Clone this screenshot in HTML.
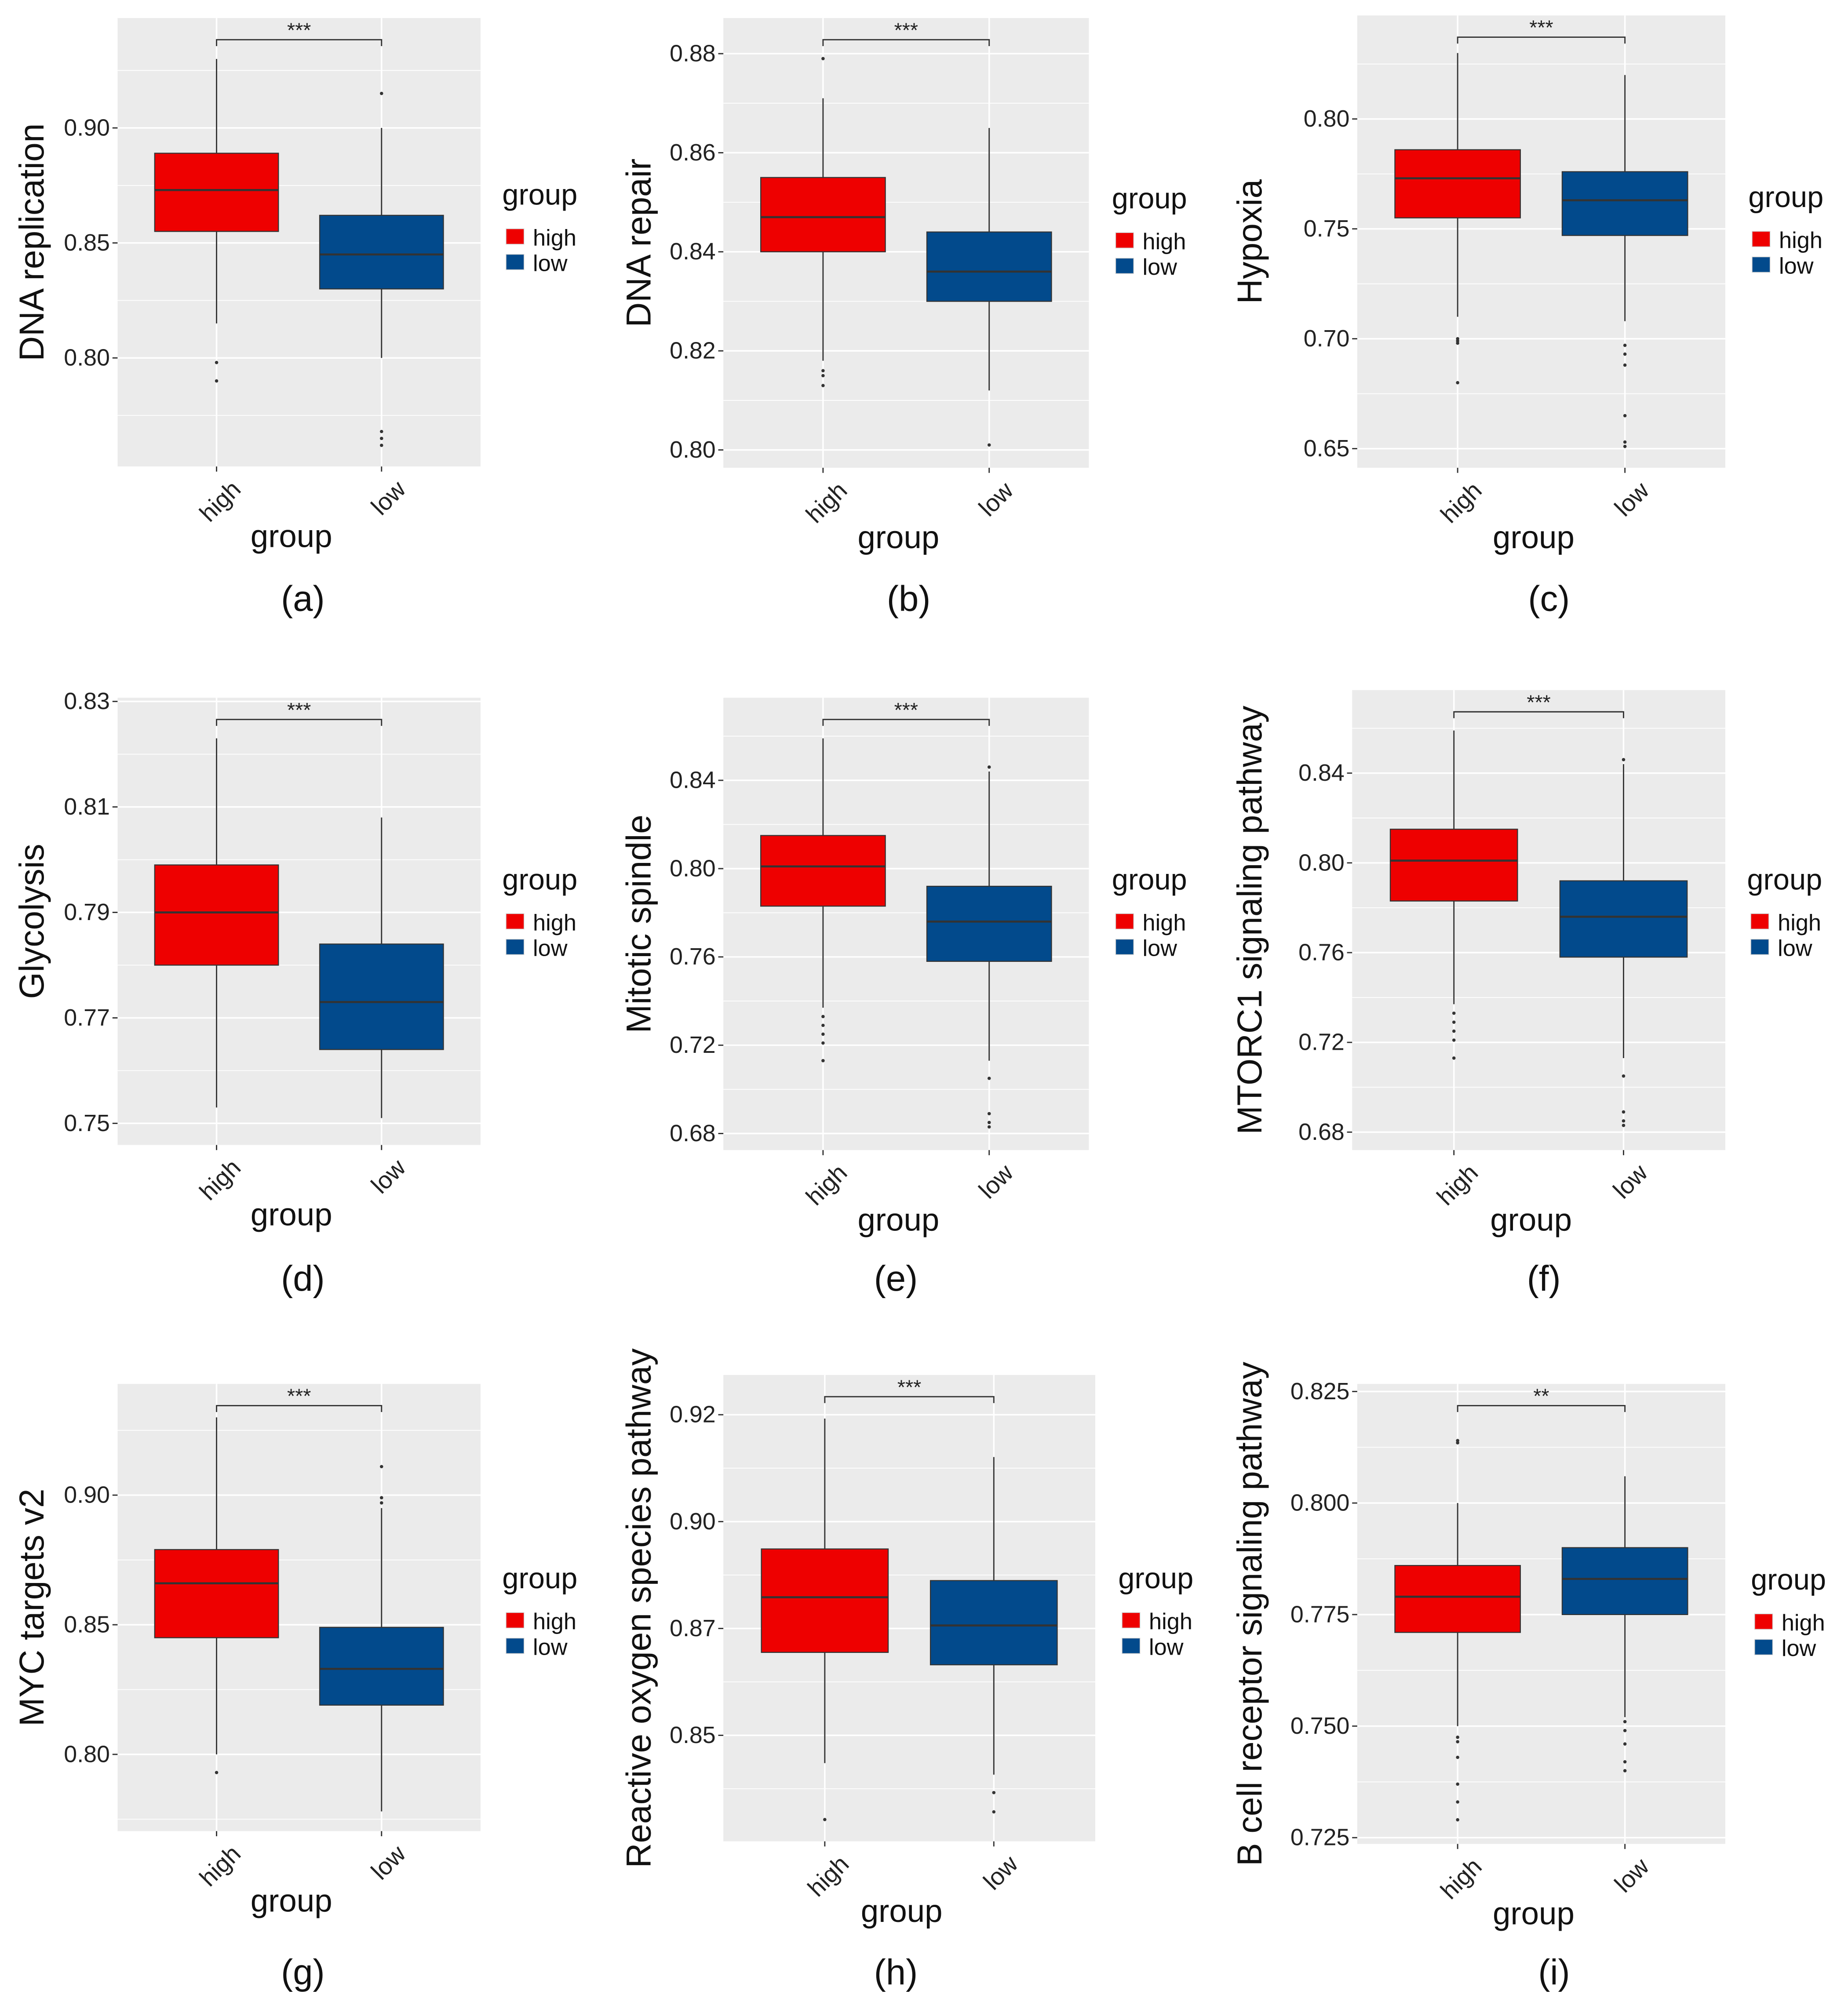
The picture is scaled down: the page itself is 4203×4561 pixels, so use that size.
<!DOCTYPE html>
<html><head><meta charset="utf-8"><style>html,body{margin:0;padding:0;background:#fff}svg{display:block}text{font-family:"Liberation Sans",Arial,sans-serif}</style></head>
<body>
<svg id="fig" xmlns="http://www.w3.org/2000/svg" width="4203" height="4561" viewBox="0 0 1446 1569"></svg>
<script>
// ---- data: per panel ----
const panelLabels = ["(a)","(b)","(c)","(d)","(e)","(f)","(g)","(h)","(i)"];
const yTitles = ["DNA replication","DNA repair","Hypoxia","Glycolysis","Mitotic spindle","MTORC1 signaling pathway","MYC targets v2","Reactive oxygen species pathway","B cell receptor signaling pathway"];
const sigMarks = ["***","***","***","***","***","***","***","***","**"];
const groups = ["high","low"];
const tickValues = [[0.90,0.85,0.80],[0.88,0.86,0.84,0.82,0.80],[0.80,0.75,0.70,0.65],[0.83,0.81,0.79,0.77,0.75],[0.84,0.80,0.76,0.72,0.68],[0.84,0.80,0.76,0.72,0.68],[0.90,0.85,0.80],[0.925,0.90,0.875,0.85],[0.825,0.800,0.775,0.750,0.725]];
const tickLabels = [["0.90","0.85","0.80"],["0.88","0.86","0.84","0.82","0.80"],["0.80","0.75","0.70","0.65"],["0.83","0.81","0.79","0.77","0.75"],["0.84","0.80","0.76","0.72","0.68"],["0.84","0.80","0.76","0.72","0.68"],["0.90","0.85","0.80"],["0.92","0.90","0.87","0.85"],["0.825","0.800","0.775","0.750","0.725"]];
const yDomains = [[0.7528,0.9478],[0.7964,0.8872],[0.6413,0.8471],[0.7459,0.8307],[0.6725,0.8774],[0.672,0.877],[0.7704,0.9429],[0.8252,0.9343],[0.7236,0.8267]];
// [lowWhisker, q1, median, q3, highWhisker]
const highStats = [[0.815,0.855,0.873,0.889,0.93],[0.818,0.840,0.847,0.855,0.871],[0.71,0.755,0.773,0.786,0.83],[0.753,0.780,0.790,0.799,0.823],[0.737,0.783,0.801,0.815,0.859],[0.737,0.783,0.801,0.815,0.859],[0.80,0.845,0.866,0.879,0.93],[0.8435,0.8694,0.8823,0.8936,0.9241],[0.750,0.771,0.779,0.786,0.800]];
const lowStats = [[0.80,0.830,0.845,0.862,0.90],[0.812,0.830,0.836,0.844,0.865],[0.708,0.747,0.763,0.776,0.82],[0.751,0.764,0.773,0.784,0.808],[0.713,0.758,0.776,0.792,0.844],[0.713,0.758,0.776,0.792,0.844],[0.778,0.819,0.833,0.849,0.895],[0.8408,0.8665,0.8757,0.8862,0.9151],[0.752,0.775,0.783,0.790,0.806]];
const highOutliers = [[0.798,0.79],[0.879,0.816,0.815,0.813],[0.70,0.699,0.698,0.68],[],[0.733,0.729,0.725,0.721,0.713],[0.733,0.729,0.725,0.721,0.713],[0.793],[0.8303],[0.814,0.8135,0.7475,0.7465,0.743,0.737,0.733,0.729]];
const lowOutliers = [[0.915,0.768,0.765,0.762],[0.801],[0.697,0.693,0.688,0.665,0.653,0.651],[],[0.846,0.705,0.689,0.685,0.683],[0.846,0.705,0.689,0.685,0.683],[0.911,0.899,0.897],[0.8366,0.8321],[0.751,0.749,0.746,0.742,0.740]];

// ---- layout ----
const rects = [[92,14,376,365],[566,14,852,366],[1062,12,1350,366],[92,546,376,896],[566,546,852,900],[1058,540,1350,900],[92,1083,376,1433],[566,1076,857,1441],[1062,1083,1350,1443]];
const yTitleX = [25,500,978,25,500,978,25,500,978];
const legendPos = [[393,152],[870,155],[1368,154],[393,688],[870,688],[1367,688],[393,1235],[875,1235],[1370,1236]];
const letterPos = [[237,468],[711,468],[1212,468],[237,1000],[701,1000],[1208,1000],[237,1543],[701,1543],[1216,1543]];
const colors = ["#EE0000","#024A8C"];
const NS="http://www.w3.org/2000/svg";
const svg=document.getElementById('fig');
function mk(tag,attrs,parent,txt){const e=document.createElementNS(NS,tag);for(const k in attrs)e.setAttribute(k,attrs[k]);if(txt!==undefined)e.textContent=txt;(parent||svg).appendChild(e);return e;}

for(let p=0;p<9;p++){
  const [x0,y0,x1,y1]=rects[p];
  const [dmin,dmax]=yDomains[p];
  const yS=v=>y1-(v-dmin)/(dmax-dmin)*(y1-y0);
  const w=x1-x0;
  const xC=i=>x0+w*(0.6+i)/2.2;
  const bw=w*0.75/2.2;
  const g=mk('g',{});
  
  
  const bg=mk('rect',{x:x0,y:y0,width:w,height:y1-y0,fill:'#EBEBEB'},g);
  
  const tv=tickValues[p];
  for(let i=0;i<tv.length-1;i++){const m=(tv[i]+tv[i+1])/2;mk('line',{x1:x0,x2:x1,y1:yS(m),y2:yS(m),stroke:'#fff','stroke-width':0.6},g);}
  const step=tv[0]-tv[1];
  [tv[0]+step/2,tv[tv.length-1]-step/2].forEach(m=>{const y=yS(m);if(y>y0&&y<y1)mk('line',{x1:x0,x2:x1,y1:y,y2:y,stroke:'#fff','stroke-width':0.6},g);});
  tv.forEach((v,i)=>{const y=yS(v);
    mk('line',{x1:x0,x2:x1,y1:y,y2:y,stroke:'#fff','stroke-width':1.2},g);
    mk('line',{x1:x0-4,x2:x0,y1:y,y2:y,stroke:'#333','stroke-width':1},g);
    const t=mk('text',{x:x0-6,y:y+6,'text-anchor':'end','font-size':18.5,fill:'#222'},g,tickLabels[p][i]);
    
  });
  for(let i=0;i<2;i++)mk('line',{x1:xC(i),x2:xC(i),y1:y0,y2:y1,stroke:'#fff','stroke-width':1.2},g);
  [highStats[p],lowStats[p]].forEach((s,i)=>{
    const cx=xC(i);
    mk('line',{x1:cx,x2:cx,y1:yS(s[4]),y2:yS(s[0]),stroke:'#333','stroke-width':1},g);
    const b=mk('rect',{x:cx-bw/2,y:yS(s[3]),width:bw,height:yS(s[1])-yS(s[3]),fill:colors[i],stroke:'#333','stroke-width':0.8},g);
    
    mk('line',{x1:cx-bw/2,x2:cx+bw/2,y1:yS(s[2]),y2:yS(s[2]),stroke:'#333','stroke-width':1.6},g);
    [highOutliers[p],lowOutliers[p]][i].forEach(o=>{
      const c=mk('circle',{cx:cx,cy:yS(o),r:1.3,fill:'#333'},g);
      
    });
    mk('line',{x1:cx,x2:cx,y1:y1,y2:y1+4,stroke:'#333','stroke-width':1},g);
    const xl=mk('text',{transform:`translate(${cx+20},${y1+19}) rotate(-45)`,'text-anchor':'end','font-size':19,fill:'#222'},g,groups[i]);
    
  });
  const sy=y0+17;
  mk('path',{d:`M${xC(0)},${sy+5}V${sy}H${xC(1)}V${sy+5}`,fill:'none',stroke:'#333','stroke-width':1},g);
  const st=mk('text',{x:(xC(0)+xC(1))/2,y:sy-2,'text-anchor':'middle','font-size':16,fill:'#222'},g,sigMarks[p]);
  
  const xt=mk('text',{x:(x0+x1)/2-6,y:y1+63,'text-anchor':'middle','font-size':25,fill:'#111'},g,'group');
  
  const yt=mk('text',{transform:`translate(${yTitleX[p]+9},${(y0+y1)/2}) rotate(-90)`,'text-anchor':'middle','font-size':27,fill:'#111'},g,yTitles[p]);
  
  const [lx,ly]=legendPos[p];
  const lt=mk('text',{x:lx,y:ly+8,'font-size':23,fill:'#111'},g,'group');
  
  groups.forEach((gr,i)=>{
    const ky=ly+33+i*20;
    const k=mk('rect',{x:lx+3,y:ky-6,width:14,height:12,fill:colors[i],stroke:'#ccc','stroke-width':0.5},g);
    
    const kt=mk('text',{x:lx+24,y:ky+7,'font-size':18,fill:'#111'},g,gr);
    
  });
  const pl=mk('text',{x:letterPos[p][0],y:letterPos[p][1]+10,'text-anchor':'middle','font-size':28,fill:'#111'},g,panelLabels[p]);
  
}
</script>
</body></html>
